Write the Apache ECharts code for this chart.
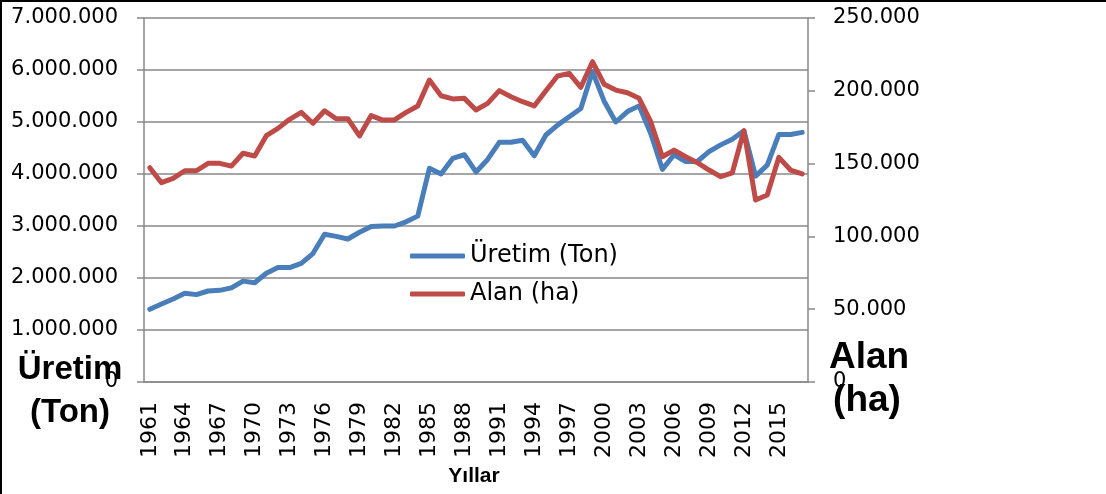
<!DOCTYPE html>
<html>
<head>
<meta charset="utf-8">
<script src="https://cdn.jsdelivr.net/npm/echarts@6/dist/echarts.min.js"></script>
<style>
  html, body { margin: 0; padding: 0; background: #fff; }
  #wrap { position: relative; width: 1106px; height: 494px; }
  #chart { width: 1106px; height: 494px; }
  #frame { position: absolute; left: 0; top: 0; width: 1106px; height: 494px;
           box-sizing: border-box; border-top: 2px solid #000; border-left: 2px solid #000;
           pointer-events: none; }
</style>
</head>
<body>
<div id="wrap">
  <div id="chart"></div>
  <div id="frame"></div>
</div>
<script>
// yıllar
var years = [
  "1961","1962","1963","1964","1965","1966","1967","1968","1969","1970",
  "1971","1972","1973","1974","1975","1976","1977","1978","1979","1980",
  "1981","1982","1983","1984","1985","1986","1987","1988","1989","1990",
  "1991","1992","1993","1994","1995","1996","1997","1998","1999","2000",
  "2001","2002","2003","2004","2005","2006","2007","2008","2009","2010",
  "2011","2012","2013","2014","2015","2016","2017"
];

// Üretim (Ton)
var uretim = [
  1398000, 1500000, 1596000, 1705000, 1680000, 1750000, 1763000, 1810000, 1940000, 1910000,
  2090000, 2200000, 2200000, 2280000, 2470000, 2840000, 2800000, 2750000, 2880000, 2990000,
  3000000, 3000000, 3080000, 3190000, 4110000, 4000000, 4300000, 4370000, 4040000, 4280000,
  4610000, 4610000, 4650000, 4350000, 4750000, 4940000, 5100000, 5260000, 5970000, 5400000,
  5000000, 5200000, 5310000, 4780000, 4090000, 4370000, 4240000, 4240000, 4430000, 4560000,
  4670000, 4830000, 3960000, 4170000, 4760000, 4760000, 4800000
];

// Alan (ha)
var alan = [
  147200, 136900, 139900, 145100, 145100, 150200, 150200, 148300, 157100, 155200,
  169200, 174200, 180400, 185200, 177700, 186300, 180800, 180800, 169000, 183000,
  179900, 180000, 185200, 189600, 207400, 196600, 194400, 194800, 186800, 191400,
  200100, 195900, 192500, 189600, 200100, 210200, 212000, 202400, 220000, 204500,
  200500, 198700, 194800, 178800, 154700, 159300, 154700, 150600, 145600, 141000,
  143700, 172600, 125000, 128400, 154300, 145600, 142900
];

var gridGrey = "#898989";
var labelFont = "DejaVu Sans";
var boldFont = "Liberation Sans";

function dotted(v) {
  return String(v).replace(/\B(?=(\d{3})+(?!\d))/g, ".");
}

var chart = echarts.init(document.getElementById("chart"));

var option = {
  animation: false,
  grid: { left: 144, right: 298, top: 18, bottom: 112 },
  legend: {
    orient: "vertical",
    left: 410,
    top: 244,
    padding: 0,
    itemGap: 14,
    itemWidth: 55,
    itemHeight: 5,
    icon: "roundRect",
    textStyle: { fontFamily: labelFont, fontSize: 24, color: "#000" },
    data: ["Üretim (Ton)", "Alan (ha)"]
  },
  xAxis: {
    type: "category",
    data: years,
    boundaryGap: true,
    axisLine: { lineStyle: { color: gridGrey, width: 1.5 } },
    axisTick: { interval: 0, length: 7, lineStyle: { color: gridGrey, width: 1.5 } },
    axisLabel: {
      interval: 2,
      rotate: 90,
      margin: 20,
      fontFamily: labelFont,
      fontSize: 22,
      color: "#000"
    }
  },
  yAxis: [
    {
      type: "value",
      min: 0,
      max: 7000000,
      interval: 1000000,
      axisLine: { show: true, lineStyle: { color: gridGrey, width: 1.5 } },
      axisTick: { show: true, length: 7, lineStyle: { color: gridGrey, width: 1.5 } },
      splitLine: { lineStyle: { color: gridGrey, width: 1.5 } },
      axisLabel: {
        margin: 26,
        fontFamily: labelFont,
        fontSize: 21,
        color: "#000",
        formatter: dotted
      }
    },
    {
      type: "value",
      min: 0,
      max: 250000,
      interval: 50000,
      position: "right",
      axisLine: { show: true, lineStyle: { color: gridGrey, width: 1.5 } },
      axisTick: { show: true, length: 7, lineStyle: { color: gridGrey, width: 1.5 } },
      splitLine: { show: false },
      axisLabel: {
        margin: 25,
        fontFamily: labelFont,
        fontSize: 21,
        color: "#000",
        formatter: dotted
      }
    }
  ],
  series: [
    {
      name: "Üretim (Ton)",
      type: "line",
      yAxisIndex: 0,
      data: uretim,
      symbol: "none",
      color: "#4a7ebb",
      lineStyle: { width: 5, color: "#4a7ebb", cap: "round", join: "round" }
    },
    {
      name: "Alan (ha)",
      type: "line",
      yAxisIndex: 1,
      data: alan,
      symbol: "none",
      color: "#be4b48",
      lineStyle: { width: 5, color: "#be4b48", cap: "round", join: "round" }
    }
  ],
  graphic: [
    // sol eksen adı
    { type: "text", x: 70, y: 370, style: { text: "Üretim", fontFamily: boldFont, fontWeight: "bold", fontSize: 33, fill: "#000", textAlign: "center", textVerticalAlign: "middle" } },
    { type: "text", x: 70, y: 413, style: { text: "(Ton)", fontFamily: boldFont, fontWeight: "bold", fontSize: 33, fill: "#000", textAlign: "center", textVerticalAlign: "middle" } },
    // sağ eksen adı
    { type: "text", x: 869, y: 358, style: { text: "Alan", fontFamily: boldFont, fontWeight: "bold", fontSize: 37, fill: "#000", textAlign: "center", textVerticalAlign: "middle" } },
    { type: "text", x: 867, y: 401, style: { text: "(ha)", fontFamily: boldFont, fontWeight: "bold", fontSize: 37, fill: "#000", textAlign: "center", textVerticalAlign: "middle" } },
    // x eksen adı
    { type: "text", x: 474, y: 476, style: { text: "Yıllar", fontFamily: boldFont, fontWeight: "bold", fontSize: 21, fill: "#000", textAlign: "center", textVerticalAlign: "middle" } }
  ]
};

chart.setOption(option);
</script>
</body>
</html>
